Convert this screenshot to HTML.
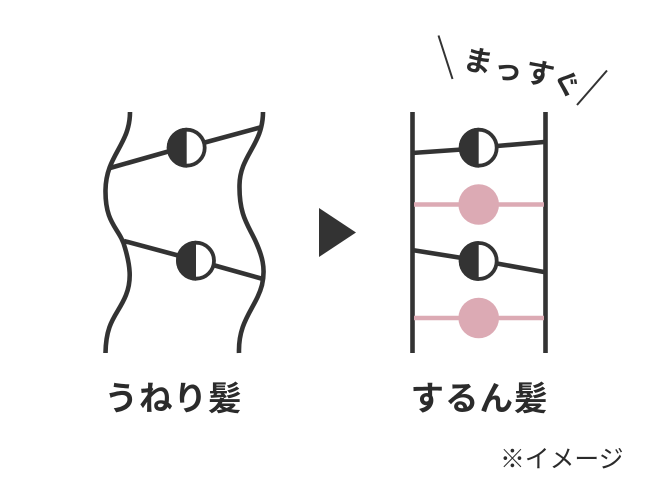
<!DOCTYPE html>
<html lang="ja"><head><meta charset="utf-8"><style>
html,body{margin:0;padding:0;background:#fff;width:650px;height:494px;overflow:hidden}
svg{display:block}
text{font-family:"Liberation Sans","Noto Sans CJK JP",sans-serif;fill:#2b2b2b}
</style></head><body>
<svg width="650" height="494" viewBox="0 0 650 494" xmlns="http://www.w3.org/2000/svg">
<g fill="none" stroke="#333" stroke-width="4.6">
<path d="M130 112C130 145 106 155 105.500 190C105 225 120 228 125 248C130 265 132 280 126 295C118 315 106 320 105.500 353"/>
<path d="M263 112C263 145 240 155 239.500 185C239 215 248 225 255 240C262 255 266 268 262 285C256 308 238 320 239 353"/>
<path d="M110 168L170 151M203 143L262 127"/>
<path d="M124 241L180 256M213 265L263 279"/>
<path d="M412.500 112V353M545.500 112V353"/>
<path d="M412 153L462 149.500M497 146L544 142"/>
<path d="M412 250L462 258M497 263.500L544 272"/>
</g>
<path d="M414 204.500H544M414 318H544" stroke="#dcaab4" stroke-width="4.400" fill="none"/>
<circle cx="478.700" cy="204.500" r="20.300" fill="#dcaab4"/>
<circle cx="478.700" cy="318" r="20.300" fill="#dcaab4"/>
<g>
<circle cx="186.700" cy="147.700" r="18" fill="#fff" stroke="#333" stroke-width="3.800"/>
<path d="M186.700 127.700A20 20 0 0 0 186.700 167.700Z" fill="#333"/>
<circle cx="196" cy="260.700" r="18" fill="#fff" stroke="#333" stroke-width="3.800"/>
<path d="M196 240.700A20 20 0 0 0 196 280.700Z" fill="#333"/>
<circle cx="478.700" cy="147.700" r="18" fill="#fff" stroke="#333" stroke-width="3.800"/>
<path d="M478.700 127.700A20 20 0 0 0 478.700 167.700Z" fill="#333"/>
<circle cx="478.700" cy="261" r="18" fill="#fff" stroke="#333" stroke-width="3.800"/>
<path d="M478.700 241A20 20 0 0 0 478.700 281Z" fill="#333"/>
</g>
<path d="M319 208L356 232.500L319 257Z" fill="#333"/>
<path d="M438.500 35.500L452.500 79M577 105L607 70.500" stroke="#333" stroke-width="2" fill="none"/>
<g font-size="29" font-weight="700" text-anchor="middle">
<text transform="translate(476 71) rotate(12)">ま</text>
<text transform="translate(506 79.500) rotate(12)">っ</text>
<text transform="translate(537.500 83.500) rotate(12)">す</text>
<text transform="translate(563 93) rotate(20)" font-size="28">ぐ</text>
</g>
<text x="104.500" y="410" font-size="33.500" font-weight="700" letter-spacing="1">うねり髪</text>
<text x="410.500" y="410" font-size="33.500" font-weight="700" letter-spacing="1">するん髪</text>
<text x="500" y="467.500" font-size="24.800">※イメージ</text>
</svg>
</body></html>
